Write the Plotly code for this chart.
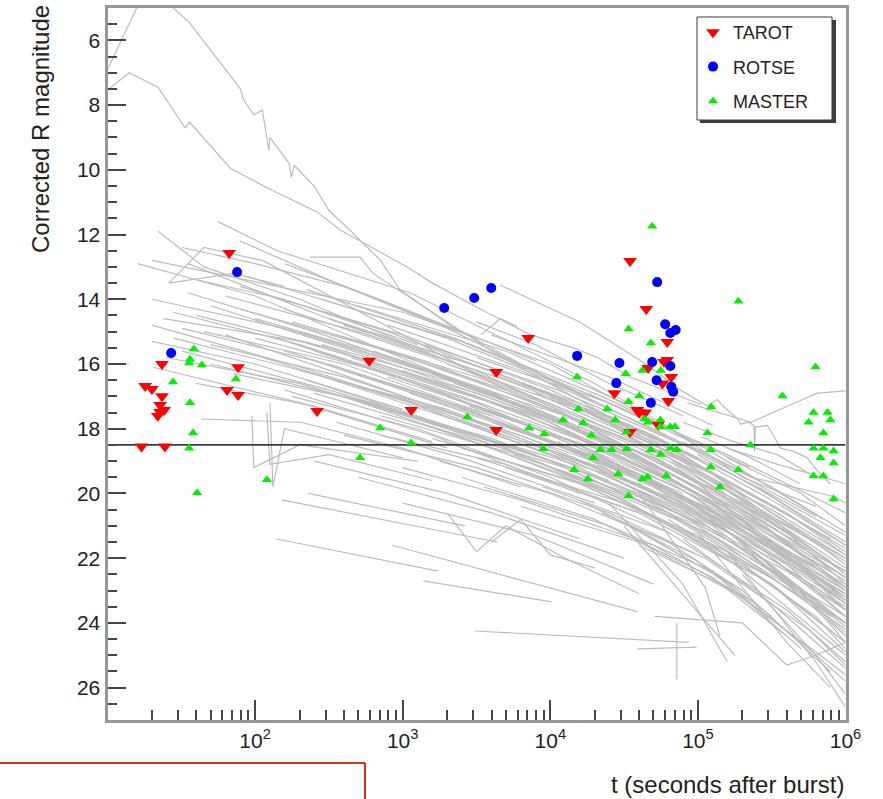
import plotly.graph_objects as go

W, H = 883, 799
FONT = "Liberation Sans"

# ---------------- data ----------------
# gray afterglow light curves: time after burst (s) and corrected R magnitude
curve_t = [
    [10, 14, 22, 33.5, 36, 68, 126, 263, 377, 1070, 1550, 3350, 7330, 1.43e4, 2.09e4, 3.47e4, 1.05e5],
    [10, 20, 28, 36, 79, 84, 98, 112, 124, 126, 170, 176, 184, 251, 316, 437, 708, 955, 2090, 1.0e4, 2.0e4],
    [4580, 7320, 1.58e4, 2.98e4, 4.57e4, 7.6e4, 1.16e5, 1.35e5, 1.48e5, 1.66e5, 1.86e5, 1.95e5, 2.19e5, 2.4e5, 2.42e5, 2.45e5, 2.95e5, 3.24e5, 3.63e5, 4.47e5, 5.5e5, 6.46e5, 7.9e5],
    [8.5e4, 2.29e5, 4.07e5, 6.46e5, 1.0e6],
    [3390, 4570, 6000],
    [3160, 7900, 2.5e4, 7.9e4],
    [20, 1000, 1e4, 6.3e4],
    [22, 45, 200, 2000, 2e4],
    [56, 141, 1120, 2e4, 1e5],
    [26, 45, 112, 630, 5000],
    [234, 513, 630, 4000, 3.2e4],
    [16, 100, 2000],
    [35, 316, 3160, 2.5e4],
    [89, 200, 2500, 2.5e4],
    [26, 71, 158],
    [20, 204, 1580, 1e4],
    [24, 204, 3160, 3.2e4],
    [10.5, 14],
    [20.4, 204, 2000],
    [43, 204, 1000, 6300],
    [28, 200, 2500, 2e4],
    [32, 316, 3160, 2.5e4],
    [20, 100, 1000],
    [35, 251, 4000, 4e4],
    [50, 630, 1e4, 6.3e4],
    [40, 251, 1580],
    [63, 500, 6300, 7.9e4],
    [79, 794, 1.26e4, 1e5],
    [95, 98, 200, 1260],
    [120, 126, 316, 1580],
    [126, 132, 158, 1000],
    [158, 1580, 1.58e4, 1.58e5],
    [200, 2000, 3.16e4, 2.5e5],
    [251, 3160, 4e4, 4e5],
    [316, 2500, 2e4, 1.26e5],
    [398, 4000, 5e4, 5e5],
    [500, 5000, 6.3e4, 6.3e5],
    [630, 6300, 7.9e4, 1e6],
    [224, 2000, 1.58e4, 1e5],
    [794, 6300, 5e4, 3.16e5],
    [1000, 1e4, 1e5, 1e6],
    [178, 1260, 1e4, 6.3e4],
    [355, 2500, 2e4],
    [282, 2000, 1.26e4, 7.9e4],
    [447, 7900, 1e5, 1e6],
    [562, 4000, 3.16e4, 2e5],
    [708, 5000, 4e4],
    [891, 8900, 7.9e4, 7.9e5],
    [1580, 1.26e4, 1e5, 1e6],
    [2000, 1.58e4, 1.26e5, 1e6],
    [2500, 2e4, 1.58e5, 1e6],
    [3160, 2.5e4, 1.58e5, 1e6],
    [4000, 3.16e4, 2.5e5, 1e6],
    [5000, 4e4, 3.16e5, 1e6],
    [6300, 5e4, 3.16e5, 1e6],
    [7900, 6.3e4, 4e5, 1e6],
    [1e4, 7.9e4, 5e5, 1e6],
    [1.26e4, 1e5, 6.3e5, 1e6],
    [1.58e4, 1e5, 6.3e5, 1e6],
    [1780, 1e4, 6.3e4, 2e5],
    [2820, 2e4, 2e5, 1e6],
    [5620, 4e4, 2.5e5, 1e6],
    [3550, 2.5e4, 1.26e5, 3.16e5],
    [1.12e4, 7.9e4, 4e5, 1e6],
    [2e4, 1e5, 1e6],
    [2.5e4, 1.26e5, 1e6],
    [3.16e4, 1.58e5, 1e6],
    [4e4, 2e5, 1e6],
    [5e4, 2.5e5, 1e6],
    [6.3e4, 3.16e5, 1e6],
    [7.9e4, 3.16e5, 1e6],
    [1e5, 4e5, 1e6],
    [1.26e5, 5e5, 1e6],
    [1.58e5, 5e5, 1e6],
    [4.5e4, 2e5, 7.9e5],
    [5.6e4, 2e5, 6.3e5],
    [2e5, 6.3e5, 1e6],
    [2.5e4, 1.26e5, 5e5],
    [2.5e5, 1e6],
    [2.5e4, 7.9e4, 1.58e5],
    [3.16e4, 8.9e4, 1.78e5],
    [4e4, 1.12e5, 1.41e5],
    [1.58e5, 6.3e5, 1e6],
    [1e5, 4e5, 7.9e5],
    [2e5, 6.3e5, 1e6],
    [5.1e4, 2e5, 4e5, 6.3e5, 1e6],
    [1.58e5, 3.47e5, 1e6],
    [1.26e5, 2.29e5, 8.5e5, 1e6],
    [7.9e4, 1.74e5, 3.47e5, 5.75e5],
    [1.05e5, 2.29e5, 4.9e5],
    [398, 4000, 4e4, 4e5, 1e6],
    [1260, 1.26e4, 1.26e5, 1e6],
    [2240, 2.24e4, 2.24e5, 1e6],
    [4470, 4e4, 3.16e5, 1e6],
    [7080, 5.6e4, 4.5e5, 1e6],
    [1.41e4, 1e5, 6.3e5, 1e6],
    [1.78e4, 1.12e5, 7.1e5],
    [794, 7900, 7.9e4, 7.9e5],
    [1000, 6300, 5e4, 2.5e5],
    [8900, 6.3e4, 4e5, 1e6],
    [2.8e4, 1.58e5, 1e6],
    [3.55e4, 2.24e5, 1e6],
    [7.1e4, 2.8e5, 1e6],
    [1.12e5, 4.5e5, 1e6],
    [158, 1580, 1.58e4, 1.58e5],
    [316, 3160, 3.16e4, 3.16e5, 1e6],
    [1410, 1.12e4, 8.9e4, 6.3e5],
    [4000, 3.55e4, 2.8e5, 1e6],
    [2.24e4, 1.12e5, 5.6e5, 1e6],
    [3.16e5, 1e6],
    [4000, 6300, 1e4, 2e4],
    [2000, 3160, 5000, 1.26e4, 4e4],
    [500, 4000, 3.16e4],
    [1000, 7900, 5e4],
    [251, 2000, 1.58e4],
    [151, 4370],
    [229, 2630],
    [137, 1740],
    [851, 3.9e4],
    [1380, 1.02e4],
    [3090, 8.7e4],
    [3.9e4, 9.8e4],
    [7.2e4, 7.2e4],
    [100, 1000, 1e4, 1e5, 1e6],
    [141, 1410, 1.41e4, 1.41e5, 1e6],
    [200, 2000, 2e4, 2e5, 1e6],
    [282, 2820, 2.82e4, 2.82e5, 1e6],
    [398, 3980, 3.98e4, 3.98e5, 1e6],
    [562, 5620, 5.62e4, 5.62e5],
    [708, 7080, 7.08e4, 7.08e5],
    [1120, 1.12e4, 1.12e5, 1e6],
    [1580, 1.58e4, 1.58e5, 1e6],
    [2240, 2.24e4, 2.24e5, 1e6],
    [3160, 3.16e4, 3.16e5, 1e6],
    [5010, 5.01e4, 5.01e5, 1e6],
    [7940, 7.94e4, 7.94e5],
    [1.26e4, 8.9e4, 5.62e5, 1e6],
    [2e4, 1.26e5, 7.94e5],
    [3.16e4, 1.78e5, 1e6],
    [5.01e4, 2.51e5, 1e6],
    [7.94e4, 3.16e5, 1e6],
    [1.26e5, 3.98e5, 1e6],
    [2e5, 6.31e5, 1e6],
    [79, 794, 7940, 7.94e4],
    [112, 1120, 1.12e4, 1.12e5],
    [224, 2240, 2.24e4, 2.24e5],
    [158, 1580, 1.58e4],
    [28, 251, 2510, 1.58e4],
    [50, 398, 3980, 3.16e4],
    [45, 398, 3980],
    [3980, 2.51e4, 1.26e5],
    [1e4, 7.94e4, 5.01e5, 1e6],
    [1.58e4, 1e5, 5.01e5, 1e6],
    [2510, 2e4, 1.26e5, 3.98e5],
    [3.98e4, 1.58e5, 6.31e5, 1e6],
    [6.31e4, 2.51e5, 7.94e5],
    [1e5, 3.16e5, 1e6],
    [501, 5010, 3.16e4],
    [20, 158, 1580, 1.58e4],
    [25, 200, 2000],
    [32, 251, 2510, 2.51e4],
    [40, 316, 3160, 3.16e4],
    [50, 398, 3980, 3.98e4],
    [63, 501, 5010, 5.01e4],
    [71, 631, 6310],
    [100, 794, 7940, 7.94e4],
    [126, 1000, 1e4, 1e5],
    [178, 1410, 1.26e4, 1.26e5],
    [251, 2000, 1.58e4],
    [355, 3160, 3.16e4, 3.16e5, 1e6],
    [631, 5010, 5.01e4, 5.01e5],
    [1000, 1e4, 1e5, 1e6],
    [2000, 1.58e4, 1.58e5, 1e6],
    [3980, 3.16e4, 3.16e5, 1e6],
    [7940, 6.31e4, 3.98e5, 1e6],
    [2e4, 1.26e5, 1e6],
    [3.98e4, 2e5, 1e6],
    [7.94e4, 3.16e5, 1e6],
    [1.41e5, 5.01e5, 1e6],
    [2.82e4, 1.41e5, 5.01e5],
    [398, 3160, 2.51e4, 1e5],
    [6310, 3.98e4, 2e5],
    [3.98e5, 1e6],
    [2.82e5, 1e6],
    [32, 100, 398, 3160],
    [40, 158, 1260],
    [79, 316, 2000, 1.58e4],
    [158, 794, 7940],
]

curve_mag = [
    [7.54, 7.0, 7.45, 8.7, 8.53, 9.95, 10.6, 11.3, 11.86, 13.0, 13.47, 14.3, 15.1, 15.5, 15.8, 16.4, 17.25],
    [6.9, 4.0, 5.0, 5.46, 7.48, 7.85, 8.3, 8.16, 9.4, 9.0, 9.8, 10.23, 9.86, 10.5, 11.25, 11.86, 12.8, 13.7, 14.8, 16.5, 17.2],
    [13.56, 14.0, 14.7, 15.5, 16.04, 16.8, 17.3, 17.1, 17.3, 17.5, 17.7, 17.86, 17.8, 17.9, 18.7, 17.95, 17.9, 18.2, 18.6, 18.7, 18.9, 19.3, 19.7],
    [17.2, 17.8, 17.3, 16.9, 16.83],
    [15.1, 14.6, 14.85],
    [14.7, 15.4, 16.6, 17.6],
    [12.8, 14.4, 16.0, 18.0],
    [11.9, 13.0, 14.0, 15.9, 17.8],
    [11.6, 12.5, 13.8, 16.6, 18.5],
    [13.5, 12.4, 12.8, 14.6, 16.8],
    [12.7, 12.7, 13.2, 15.6, 17.9],
    [12.9, 13.9, 16.4],
    [12.9, 14.6, 16.2, 18.2],
    [13.3, 13.8, 15.3, 17.2],
    [13.5, 13.2, 13.6],
    [14.8, 16.1, 17.4, 18.7],
    [14.6, 15.3, 16.9, 18.6],
    [16.0, 16.0],
    [16.1, 17.2, 18.6],
    [17.7, 17.8, 18.6, 19.8],
    [14.4, 15.4, 17.0, 18.5],
    [15.6, 16.8, 18.2, 19.6],
    [15.3, 16.0, 17.4],
    [13.8, 15.0, 16.9, 18.9],
    [14.2, 15.8, 17.7, 19.4],
    [16.6, 17.3, 18.4],
    [15.1, 16.5, 18.3, 20.3],
    [13.6, 15.0, 17.1, 19.2],
    [17.6, 19.2, 18.5, 19.0],
    [17.5, 19.1, 18.8, 19.6],
    [17.2, 19.8, 18.0, 18.9],
    [14.3, 15.8, 17.6, 19.6],
    [15.0, 16.4, 18.6, 20.8],
    [15.6, 17.2, 19.4, 22.0],
    [14.6, 15.9, 17.4, 19.2],
    [16.2, 17.6, 19.8, 22.6],
    [15.3, 16.8, 18.9, 21.8],
    [16.8, 18.2, 20.3, 23.5],
    [16.5, 17.9, 19.3, 20.9],
    [14.8, 16.2, 18.0, 19.8],
    [17.5, 19.0, 21.0, 24.2],
    [17.0, 18.0, 19.5, 21.2],
    [17.8, 18.9, 20.3],
    [14.0, 15.2, 16.7, 18.5],
    [15.8, 17.6, 20.0, 22.4],
    [17.2, 18.4, 20.2, 22.3],
    [18.2, 19.1, 20.6],
    [15.9, 17.5, 19.6, 22.4],
    [16.3, 17.6, 19.4, 22.0],
    [17.0, 18.5, 20.6, 23.0],
    [18.6, 19.8, 21.8, 24.0],
    [15.8, 17.2, 18.8, 20.6],
    [17.8, 19.2, 21.4, 23.4],
    [19.2, 20.6, 22.8, 24.6],
    [16.6, 18.2, 20.2, 21.6],
    [18.2, 19.9, 22.2, 23.8],
    [17.0, 18.8, 21.2, 22.2],
    [19.5, 21.3, 23.8, 24.8],
    [17.8, 19.7, 22.6, 23.3],
    [19.0, 20.0, 21.5, 23.0],
    [17.3, 18.6, 20.8, 22.7],
    [18.8, 20.1, 22.1, 24.1],
    [19.8, 21.0, 22.4, 23.8],
    [18.4, 20.1, 22.6, 24.4],
    [18.2, 20.0, 23.2],
    [19.0, 20.8, 24.0],
    [20.2, 22.0, 25.0],
    [18.6, 20.4, 22.6],
    [19.6, 21.6, 23.8],
    [20.8, 22.8, 24.9],
    [18.4, 19.8, 21.2],
    [19.5, 21.2, 22.8],
    [20.3, 22.3, 23.6],
    [18.9, 20.0, 21.0],
    [21.3, 23.0, 25.5],
    [17.8, 19.5, 20.4],
    [21.5, 23.5, 24.3],
    [17.6, 19.6, 21.5],
    [19.8, 21.5],
    [20.3, 22.8, 25.2],
    [21.0, 23.4, 25.0],
    [20.0, 22.9, 24.4],
    [21.8, 25.2, 26.6],
    [21.2, 24.6, 26.0],
    [22.5, 25.0, 26.2],
    [23.8, 24.0, 25.3, 25.0, 24.6],
    [18.6, 19.1, 19.7],
    [18.9, 19.5, 20.1, 20.3],
    [17.8, 18.4, 18.8, 19.4],
    [18.25, 18.9, 19.7],
    [17.0, 18.3, 20.0, 22.4, 23.6],
    [17.8, 19.2, 21.3, 23.8],
    [16.6, 18.2, 20.4, 22.0],
    [18.4, 19.7, 21.9, 23.1],
    [17.4, 19.0, 21.3, 22.5],
    [18.9, 20.6, 22.9, 23.6],
    [16.9, 18.6, 20.8],
    [16.4, 17.9, 19.9, 22.9],
    [19.2, 20.2, 21.6, 23.4],
    [19.8, 21.2, 23.6, 25.2],
    [18.0, 19.9, 22.3],
    [19.3, 21.1, 23.0],
    [19.2, 20.9, 22.4],
    [20.0, 22.0, 23.3],
    [15.6, 17.0, 18.8, 21.2],
    [16.0, 17.5, 19.3, 21.6, 22.8],
    [15.4, 16.8, 18.6, 20.7],
    [16.3, 17.9, 19.9, 21.3],
    [20.6, 22.0, 24.2, 25.3],
    [22.3, 24.0],
    [21.5, 20.8, 21.9, 22.3],
    [20.6, 21.8, 21.0, 22.0, 23.1],
    [19.5, 20.6, 22.0],
    [20.3, 21.3, 22.8],
    [19.0, 20.0, 21.4],
    [20.2, 21.5],
    [20.0, 21.0],
    [21.4, 22.4],
    [21.6, 23.65],
    [22.7, 23.35],
    [24.25, 24.6],
    [24.8, 24.75],
    [24.0, 25.75],
    [14.6, 15.9, 17.6, 19.8, 22.6],
    [15.2, 16.7, 18.4, 20.7, 23.2],
    [16.2, 17.4, 19.2, 21.7, 24.0],
    [15.4, 16.7, 18.5, 21.0, 22.9],
    [14.8, 16.2, 18.1, 20.6, 21.8],
    [16.0, 17.4, 19.5, 22.2],
    [17.6, 18.9, 20.8, 23.6],
    [16.9, 18.5, 20.4, 23.1],
    [18.3, 19.7, 21.8, 24.6],
    [17.7, 19.2, 21.4, 23.3],
    [18.9, 20.3, 22.6, 24.2],
    [17.9, 19.6, 22.0, 22.9],
    [16.9, 18.9, 21.4],
    [18.1, 19.9, 22.4, 23.1],
    [19.3, 21.0, 23.8],
    [18.8, 20.7, 23.4],
    [18.5, 20.3, 22.0],
    [20.1, 21.9, 23.4],
    [19.6, 21.0, 22.1],
    [20.5, 22.3, 23.0],
    [14.3, 15.6, 17.2, 19.0],
    [15.8, 17.2, 18.9, 21.0],
    [13.7, 15.2, 17.0, 19.2],
    [16.8, 18.2, 20.0],
    [15.2, 16.3, 17.8, 19.1],
    [16.0, 17.0, 18.6, 20.2],
    [15.0, 16.0, 17.6],
    [15.1, 16.4, 17.9],
    [18.7, 20.5, 23.0, 24.0],
    [20.2, 22.1, 24.6, 25.8],
    [19.5, 20.8, 22.6, 24.4],
    [21.6, 22.9, 24.9, 25.6],
    [19.0, 20.6, 22.1],
    [18.8, 20.1, 21.6],
    [14.2, 15.6, 17.2],
    [14.0, 14.9, 16.3, 18.0],
    [15.8, 16.6, 18.0],
    [14.9, 15.9, 17.4, 19.0],
    [14.5, 15.5, 17.0, 18.8],
    [15.4, 16.4, 17.9, 19.5],
    [13.9, 15.0, 16.5, 18.3],
    [16.3, 17.2, 18.8],
    [15.2, 16.3, 18.0, 20.0],
    [13.9, 15.1, 16.8, 18.9],
    [14.7, 15.9, 17.6, 19.9],
    [16.9, 18.1, 19.6],
    [15.1, 16.4, 18.2, 20.5, 21.9],
    [15.6, 17.0, 18.9, 21.6],
    [16.2, 17.8, 20.0, 22.9],
    [16.0, 17.4, 19.6, 21.7],
    [17.2, 18.8, 21.2, 22.6],
    [19.0, 20.6, 22.8, 24.0],
    [17.6, 19.4, 22.5],
    [19.9, 21.6, 24.4],
    [21.4, 23.4, 25.4],
    [21.0, 23.0, 24.6],
    [20.8, 22.6, 24.8],
    [18.2, 19.2, 20.6, 21.9],
    [20.4, 21.5, 23.2],
    [20.6, 21.9],
    [21.0, 22.9],
    [12.4, 12.9, 13.6, 15.2],
    [13.4, 14.0, 15.4],
    [12.2, 13.4, 14.9, 16.9],
    [12.9, 14.1, 15.9],
]

tarot_t = [17, 24.5, 23.4, 18, 20, 23.4, 22.7, 22.7, 24.2, 21.9, 64.6, 76.7, 76.7, 66.7,
           263, 593, 1143, 4300, 4300, 7080, 2.72e4, 3.47e4, 3.89e4, 4.0e4, 4.4e4, 5.37e4,
           3.47e4, 4.47e4, 6.2e4, 6.2e4, 6.6e4, 5.75e4, 6.3e4, 4.6e4, 5.9e4]
tarot_mag = [18.55, 18.55, 16.0, 16.68, 16.77, 17.0, 17.27, 17.48, 17.42, 17.6, 16.8, 16.96, 16.1, 12.57,
             17.45, 15.9, 17.42, 16.25, 18.04, 15.2, 16.9, 18.1, 17.42, 17.5, 17.5, 17.88,
             12.82, 14.3, 15.32, 15.88, 16.4, 16.6, 17.14, 16.12, 15.94]

rotse_t = [27, 75.5, 1910, 3050, 3980, 1.52e4, 2.94e4, 2.8e4, 5.3e4, 6.0e4, 6.5e4, 7.07e4,
           4.9e4, 6.5e4, 5.25e4, 6.6e4, 6.8e4, 4.8e4]
rotse_mag = [15.66, 13.16, 14.27, 13.96, 13.65, 15.75, 15.97, 16.59, 13.47, 14.77, 15.04, 14.95,
             15.94, 16.06, 16.5, 16.7, 16.86, 17.2]

master_t = [38.5, 36.2, 35.7, 43.6, 27.8, 36.2, 38, 35.7, 40.5, 120, 74, 703, 514,
            4.9e4, 3.39e4, 4.8e4, 1.52e4, 3.24e4, 4.2e4, 5.6e4, 4.0e4, 3.39e4, 1.55e4, 2.43e4,
            2.75e4, 1.22e4, 1.67e4, 2740, 7200, 9100, 1.9e4, 3.3e4, 4.34e4, 4.6e4, 5.57e4,
            6.5e4, 7.0e4, 1140, 8980, 2.18e4, 2.6e4, 3.3e4, 4.8e4, 6.5e4, 7.2e4, 1.95e4,
            5.6e4, 1.45e4, 1.8e4, 2.88e4, 4.2e4, 4.55e4, 6.1e4, 3.39e4, 1.88e5, 6.27e5,
            3.74e5, 1.23e5, 6.07e5, 7.55e5, 7.9e5, 5.62e5, 7.08e5, 1.16e5, 2.27e5, 1.22e5,
            6.07e5, 7.08e5, 8.3e5, 6.76e5, 8.3e5, 6.07e5, 7.08e5, 1.22e5, 1.88e5, 1.41e5,
            8.3e5, 5.57e4]
master_mag = [15.54, 15.85, 15.97, 16.03, 16.56, 17.2, 18.13, 18.6, 19.98, 19.58, 16.46, 17.98, 18.9,
              11.74, 14.92, 15.35, 16.4, 16.3, 16.2, 16.2, 16.99, 17.17, 17.39, 17.39,
              17.73, 17.73, 17.82, 17.64, 17.98, 18.16, 18.2, 18.1, 17.7, 17.8, 17.94,
              17.94, 17.94, 18.44, 18.62, 18.65, 18.65, 18.62, 18.65, 18.6, 18.65, 18.9,
              18.8, 19.27, 19.55, 19.4, 19.55, 19.49, 19.46, 20.07, 14.06, 16.09,
              16.99, 17.33, 17.5, 17.5, 17.73, 17.8, 18.13, 18.13, 18.5, 18.65,
              18.6, 18.6, 18.69, 18.9, 19.06, 19.46, 19.46, 19.18, 19.27, 19.8,
              20.17, 17.73]

limit_mag = 18.5
x_range_t = [10, 1e6]
x_tick_vals = [1e2, 1e3, 1e4, 1e5, 1e6]
x_tick_text = ["10<sup>2</sup>", "10<sup>3</sup>", "10<sup>4</sup>", "10<sup>5</sup>", "10<sup>6</sup>"]

# ---------------- figure ----------------
gx, gy = [], []
for ts, ms in zip(curve_t, curve_mag):
    gx += list(ts) + [None]
    gy += list(ms) + [None]

fig = go.Figure()
fig.add_trace(go.Scatter(x=gx, y=gy, mode="lines", line=dict(color="rgb(188,188,188)", width=1.2),
                         showlegend=False, hoverinfo="skip", connectgaps=False))
fig.add_trace(go.Scatter(x=x_range_t, y=[limit_mag, limit_mag], mode="lines",
                         line=dict(color="rgb(60,60,60)", width=1.6), showlegend=False, hoverinfo="skip"))
fig.add_trace(go.Scatter(x=tarot_t, y=tarot_mag, mode="markers", name="TAROT", legendgroup="a",
                         marker=dict(symbol="triangle-down", size=12, color="rgb(255,0,0)", line=dict(width=0))))
fig.add_trace(go.Scatter(x=rotse_t, y=rotse_mag, mode="markers", name="ROTSE", legendgroup="b",
                         marker=dict(symbol="circle", size=10, color="rgb(0,0,255)", line=dict(width=0))))
fig.add_trace(go.Scatter(x=master_t, y=master_mag, mode="markers", name="MASTER", legendgroup="c",
                         marker=dict(symbol="triangle-up", size=9, color="rgb(0,240,0)", line=dict(width=0))))

FL, FR, FT, FB = 107.5, 845.5, 8, 720
axis_common = dict(showline=True, linecolor="rgb(150,150,150)", linewidth=3, mirror=True,
                   ticks="inside", tickcolor="rgb(70,70,70)", tickwidth=1.5, showgrid=False,
                   zeroline=False, automargin=False, tickfont=dict(family=FONT, size=21, color="#222"))

fig.update_layout(
    width=W, height=H, autosize=False, margin=dict(l=0, r=0, t=0, b=0, pad=0),
    paper_bgcolor="white", plot_bgcolor="white",
    xaxis=dict(type="log", range=[1, 6], domain=[FL / W, FR / W], tickmode="array",
               tickvals=x_tick_vals, ticktext=x_tick_text, ticklen=20,
               minor=dict(dtick="D1", ticks="inside", ticklen=10, tickwidth=1.5, tickcolor="rgb(70,70,70)"),
               **axis_common),
    yaxis=dict(range=[27, 5], domain=[1 - FB / H, 1 - FT / H], dtick=2, tick0=0, ticklen=18,
               minor=dict(dtick=0.5, tick0=0, ticks="inside", ticklen=9, tickwidth=1.5, tickcolor="rgb(70,70,70)"),
               **axis_common),
    legend=dict(x=693 / W, y=1 - 14 / H, xanchor="left", yanchor="top", bgcolor="rgba(0,0,0,0)",
                borderwidth=0, font=dict(family=FONT, size=18, color="#222"), tracegroupgap=8,
                itemsizing="trace"),
    annotations=[
        dict(text="Corrected R magnitude", x=40 / W, y=1 - 129 / H, xref="paper", yref="paper",
             xanchor="center", yanchor="middle", textangle=-90, showarrow=False,
             font=dict(family=FONT, size=24, color="#222")),
        dict(text="t (seconds after burst)", x=846 / W, y=1 - 784 / H, xref="paper", yref="paper",
             xanchor="right", yanchor="middle", showarrow=False, font=dict(family=FONT, size=24, color="#222")),
    ],
    shapes=[
        dict(type="rect", xref="paper", yref="paper", x0=700 / W, x1=836 / W, y0=1 - 123 / H, y1=1 - 20 / H,
             fillcolor="rgb(60,60,60)", line=dict(width=0), layer="above"),
        dict(type="rect", xref="paper", yref="paper", x0=697 / W, x1=832 / W, y0=1 - 120 / H, y1=1 - 17 / H,
             fillcolor="white", line=dict(color="rgb(60,60,60)", width=1), layer="above"),
        dict(type="line", xref="paper", yref="paper", x0=0, x1=365 / W, y0=1 - 763 / H, y1=1 - 763 / H,
             line=dict(color="rgb(215,50,25)", width=2)),
        dict(type="line", xref="paper", yref="paper", x0=365 / W, x1=365 / W, y0=1 - 763 / H, y1=-0.01,
             line=dict(color="rgb(215,50,25)", width=2)),
    ],
)

fig.write_html("out.html", config={"responsive": False})
